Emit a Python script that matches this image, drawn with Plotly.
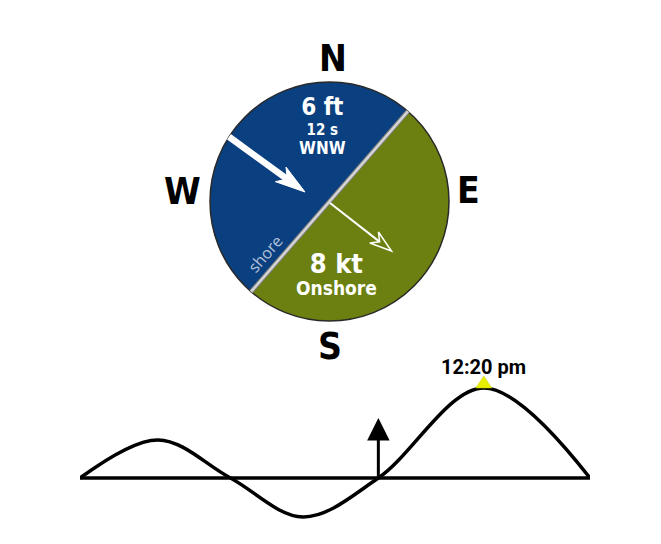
import math
import plotly.graph_objects as go

# ---------------- data ----------------
compass_labels = ["N", "E", "S", "W"]
swell_height = "6 ft"
swell_period = "12 s"
swell_dir = "WNW"
wind_speed = "8 kt"
wind_type = "Onshore"
shore_label = "shore"
swell_arrow_bearing = 126   # direction of travel (deg)
wind_arrow_bearing = 128    # direction of travel (deg)
shore_bearing = 41          # orientation of the shoreline (deg)

tide_hours = [2.83, 4.67, 6.37, 8.08, 9.85, 12.33, 14.83]
tide_ft = [0.0, 1.27, 0.0, -1.30, 0.0, 3.0, 0.0]
now_hour = 9.85
now_arrow_ft = 2.0
high_hour = 12.33
high_ft = 3.0
high_label = "12:20 pm"

# ---------------- layout constants ----------------
W, H = 661, 544
OFF = 8  # page body margin
CX, CY, R = 329.5, 201.5, 119.5
BLUE = "#0a3f80"
GREEN = "#6b8010"
COND = "DejaVu Sans Condensed, Liberation Sans Narrow, Roboto Condensed, Roboto, sans-serif"


def pt(bearing, r, cx=CX, cy=CY):
    b = math.radians(bearing)
    return cx + r * math.sin(b), cy - r * math.cos(b)


def arc_path(b0, b1, n=90):
    pts = []
    for i in range(n + 1):
        b = b0 + (b1 - b0) * i / n
        pts.append(pt(b, R))
    return "M " + " L ".join(f"{x:.2f},{y:.2f}" for x, y in pts) + " Z"


def head_path(tip, bearing, length, hw, notch):
    b = math.radians(bearing)
    ux, uy = math.sin(b), -math.cos(b)
    nx, ny = -uy, ux
    tx, ty = tip
    bx, by = tx - length * ux, ty - length * uy
    p1 = (bx + hw * nx, by + hw * ny)
    p2 = (tx - (length - notch) * ux, ty - (length - notch) * uy)
    p3 = (bx - hw * nx, by - hw * ny)
    pts = [tip, p1, p2, p3]
    return "M " + " L ".join(f"{x:.2f},{y:.2f}" for x, y in pts) + " Z"


shapes = []
shapes.append(dict(type="path", xref="x", yref="y", path=arc_path(shore_bearing, shore_bearing - 180),
                   fillcolor=BLUE, line=dict(width=0), layer="below"))
shapes.append(dict(type="path", xref="x", yref="y", path=arc_path(shore_bearing, shore_bearing + 180),
                   fillcolor=GREEN, line=dict(width=0), layer="below"))
shapes.append(dict(type="circle", xref="x", yref="y", x0=CX - R, x1=CX + R, y0=CY - R, y1=CY + R,
                   line=dict(color="#2a2a2a", width=1.5)))
s0 = pt(shore_bearing, R)
s1 = pt(shore_bearing + 180, R)
shapes.append(dict(type="line", xref="x", yref="y", x0=s0[0], y0=s0[1], x1=s1[0], y1=s1[1],
                   line=dict(color="#7d7d7d", width=4.5)))
shapes.append(dict(type="line", xref="x", yref="y", x0=s0[0], y0=s0[1], x1=s1[0], y1=s1[1],
                   line=dict(color="#d4d4d4", width=2.5)))

# swell arrow (thick white)
sw_tip = (305, 192)
sw_len = 94
b = math.radians(swell_arrow_bearing)
sw_start = (sw_tip[0] - sw_len * math.sin(b), sw_tip[1] + sw_len * math.cos(b))
sw_base = (sw_tip[0] - 22 * math.sin(b), sw_tip[1] + 22 * math.cos(b))
shapes.append(dict(type="line", xref="x", yref="y", x0=sw_start[0], y0=sw_start[1],
                   x1=sw_base[0], y1=sw_base[1], line=dict(color="white", width=6.5)))
shapes.append(dict(type="path", xref="x", yref="y", path=head_path(sw_tip, swell_arrow_bearing, 30, 9, 8),
                   fillcolor="white", line=dict(color="white", width=1)))

# wind arrow (thin white, open head)
wd_start = (330, 203)
wd_len = 78
b = math.radians(wind_arrow_bearing)
wd_tip = (wd_start[0] + wd_len * math.sin(b), wd_start[1] - wd_len * math.cos(b))
wd_base = (wd_tip[0] - 14 * math.sin(b), wd_tip[1] + 14 * math.cos(b))
shapes.append(dict(type="line", xref="x", yref="y", x0=wd_start[0], y0=wd_start[1],
                   x1=wd_base[0], y1=wd_base[1], line=dict(color="white", width=2)))
shapes.append(dict(type="path", xref="x", yref="y", path=head_path(wd_tip, wind_arrow_bearing, 22, 7, 7),
                   fillcolor=GREEN, line=dict(color="white", width=1.5)))

# high-tide triangle
shapes.append(dict(type="path", xref="x2", yref="y2", xsizemode="pixel", ysizemode="pixel",
                   xanchor=high_hour, yanchor=high_ft, path="M -8,0 L 8,0 L 0,12 Z",
                   fillcolor="#e6ef00", line=dict(color="#c8d000", width=0.5)))

annotations = []
label_pos = {"N": (333, 58), "E": (468, 190), "S": (330, 346), "W": (182, 191)}
for lab in compass_labels:
    x, y = label_pos[lab]
    annotations.append(dict(xref="x", yref="y", x=x, y=y, text=lab, showarrow=False,
                            font=dict(family=COND, size=37, color="black", weight="bold")))


def span(t, size):
    return f"<span style='font-size:{size}px'>{t}</span>"


swell_text = "<br>".join([span(swell_height, 24), span(swell_period, 15), span(swell_dir, 17)])
annotations.append(dict(xref="x", yref="y", x=322, y=125, text=swell_text, showarrow=False,
                        font=dict(family=COND, size=15, color="white", weight="bold")))
wind_text = "<br>".join([span(wind_speed, 27), span(wind_type, 19)])
annotations.append(dict(xref="x", yref="y", x=336, y=273, text=wind_text, showarrow=False,
                        font=dict(family=COND, size=17, color="white", weight="bold")))
annotations.append(dict(xref="x", yref="y", x=265, y=254, text=shore_label, showarrow=False,
                        textangle=-49,
                        font=dict(family="Open Sans, sans-serif", size=16,
                                  color="rgba(225,230,240,0.8)")))

annotations.append(dict(xref="x2", yref="y2", axref="x2", ayref="y2", x=now_hour, y=now_arrow_ft,
                        ax=now_hour, ay=0, text="", showarrow=True, arrowhead=2, arrowsize=1.5,
                        arrowwidth=3, arrowcolor="black", standoff=0, startstandoff=0))
annotations.append(dict(xref="x2", yref="y2", x=high_hour, y=high_ft, yshift=21, text=high_label,
                        showarrow=False, font=dict(family="Roboto, sans-serif", size=20,
                                                  color="black", weight="bold")))

fig = go.Figure()
fig.add_trace(go.Scatter(x=[tide_hours[0], tide_hours[-1]], y=[0, 0], xaxis="x2", yaxis="y2",
                         mode="lines", line=dict(color="black", width=3.5), hoverinfo="skip"))
fig.add_trace(go.Scatter(x=tide_hours, y=tide_ft, xaxis="x2", yaxis="y2", mode="lines",
                         line=dict(color="black", width=3.5, shape="spline", smoothing=1.0),
                         hoverinfo="skip"))

fig.update_layout(
    width=W, height=H, margin=dict(l=0, r=0, t=0, b=0, pad=0),
    paper_bgcolor="white", plot_bgcolor="rgba(0,0,0,0)", showlegend=False,
    xaxis=dict(range=[OFF, W + OFF], domain=[0, 1], visible=False, fixedrange=True),
    yaxis=dict(range=[H + OFF, OFF], domain=[0, 1], visible=False, fixedrange=True),
    xaxis2=dict(range=[tide_hours[0], tide_hours[-1]], domain=[(80 - OFF) / W, (590 - OFF) / W],
                visible=False, anchor="y2"),
    yaxis2=dict(range=[-1.733, 3.6], domain=[(H - 530 + OFF) / H, (H - 370 + OFF) / H], visible=False,
                anchor="x2"),
    shapes=shapes, annotations=annotations,
)
fig.write_html("out.html")
